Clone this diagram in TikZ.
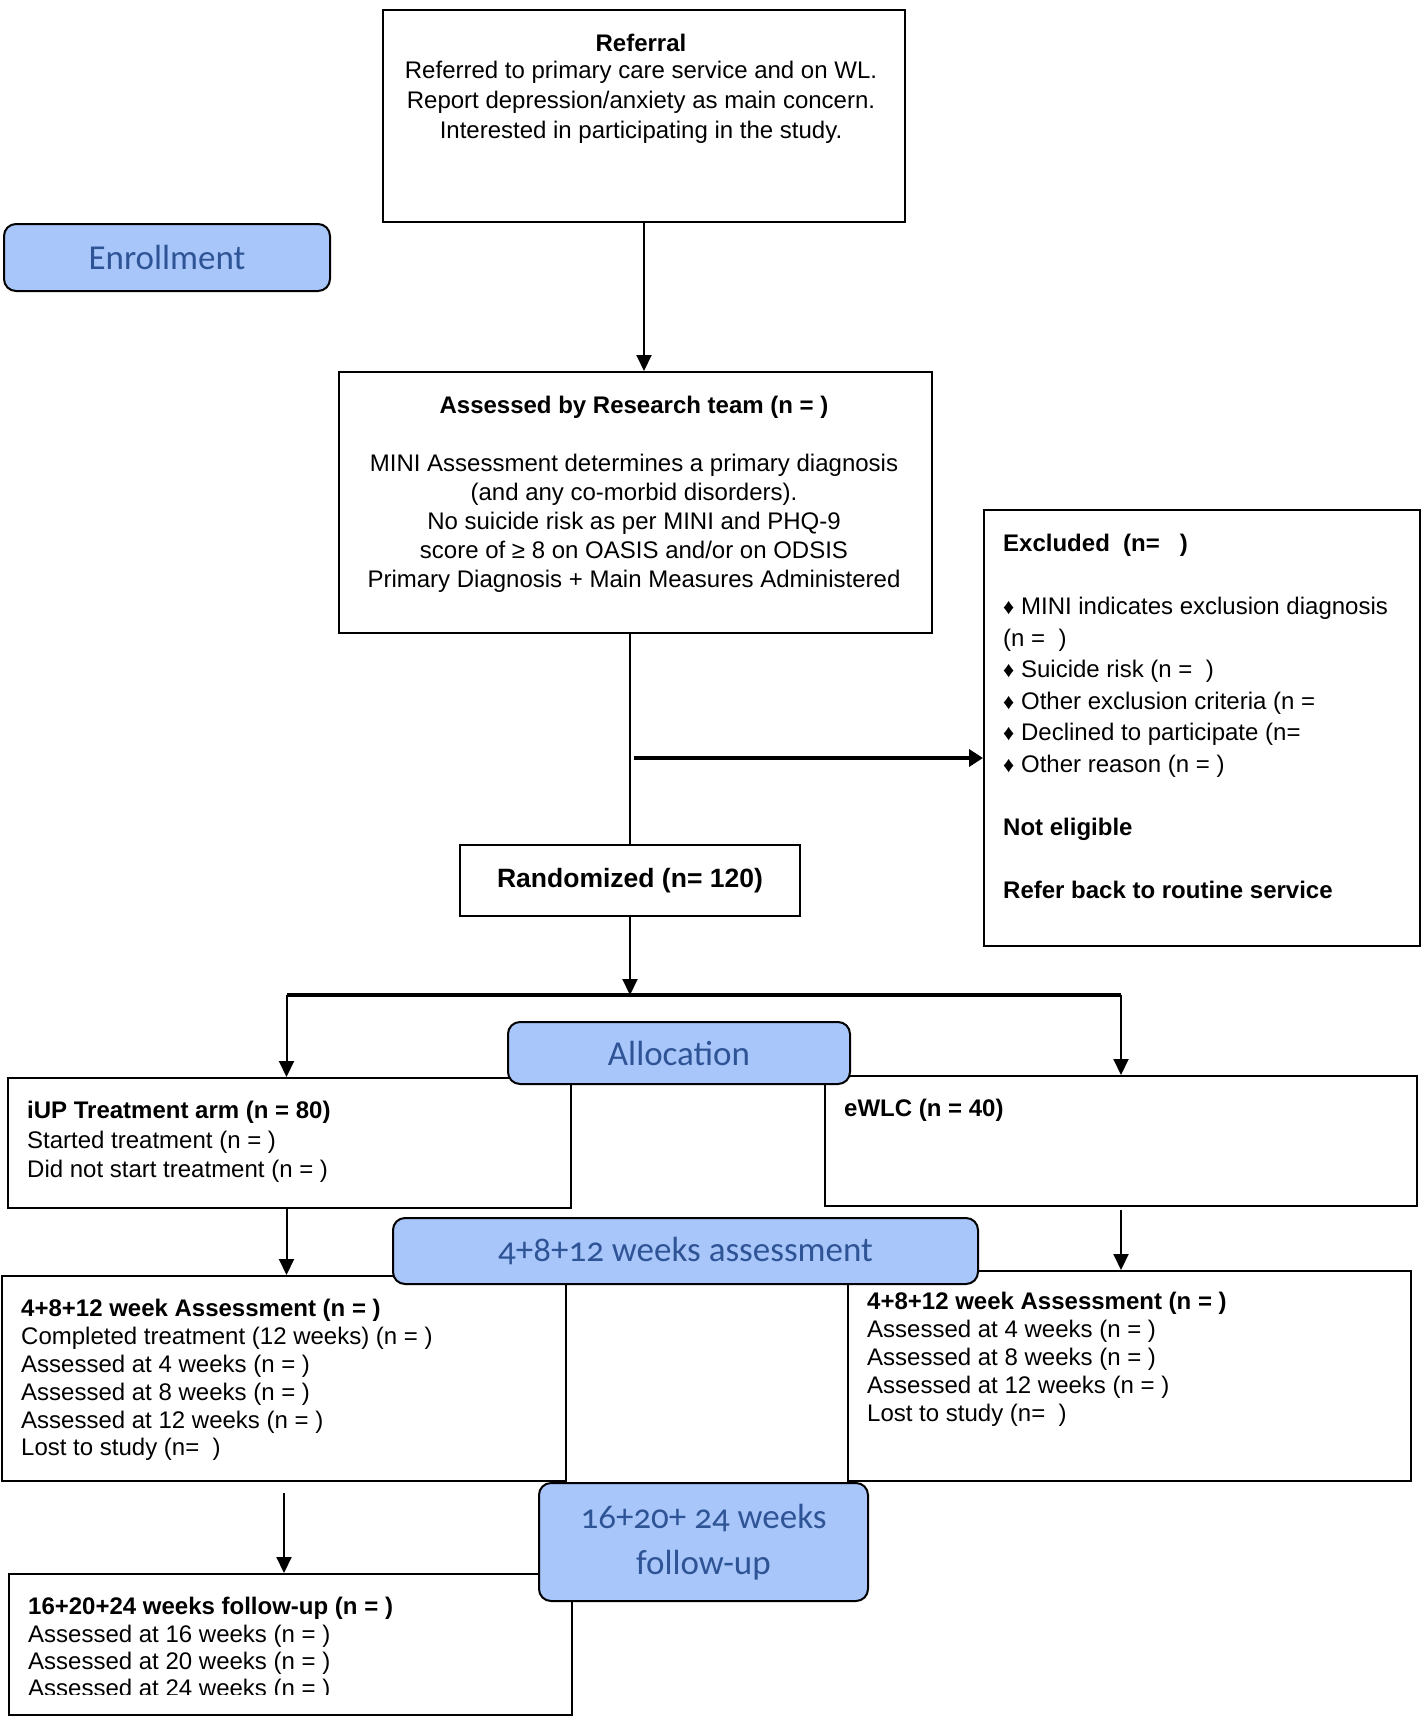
\documentclass[tikz,border=0pt]{standalone}
\usepackage{fontspec}
\setmainfont{Liberation Sans}
\newfontfamily\labfont[Numbers=OldStyle]{Carlito}
\usetikzlibrary{arrows.meta}
\definecolor{labfill}{RGB}{168,198,250}
\definecolor{labtext}{RGB}{47,84,150}
\newcommand\fstrut{\rule{0pt}{18pt}}
\newcommand\dia{{\fontsize{22}{22}\selectfont ♦}}
\begin{document}
\begin{tikzpicture}[x=1pt,y=-1pt,
  box/.style={draw, line width=2pt, inner sep=0pt, anchor=north west, fill=white},
  lab/.style={draw, line width=2pt, rounded corners=12pt, fill=labfill, text=labtext, inner sep=0pt, anchor=north west, align=center},
  labfont/.style={font=\fontsize{35}{#1}\selectfont\labfont},
  labfont/.default=42,
  txt/.style={inner sep=0pt, anchor=north west, align=left, font=\fontsize{24}{#1}\selectfont},
  txt/.default=29,
  ctxt/.style={inner sep=0pt, anchor=north, align=center, font=\fontsize{24}{#1}\selectfont},
  ctxt/.default=29,
  conn/.style={line width=2pt},
  heavy/.style={line width=4pt},
  arr/.style={line width=2pt, -{Triangle[length=16pt,width=15pt]}},
  heavyarr/.style={line width=4pt, -{Triangle[length=14pt,width=17pt]}}
]
\useasboundingbox (0,0) rectangle (1424,1716);
\fill[white] (0,0) rectangle (1424,1716);

% boxes
\node[box, minimum width=522pt, minimum height=212pt] (ref) at (382,9) {};
\node[box, minimum width=593pt, minimum height=261pt] (assess) at (338,371) {};
\node[box, minimum width=436pt, minimum height=436pt] (excl) at (983,509) {};
\node[box, minimum width=340pt, minimum height=71pt, font=\fontsize{26.5}{30}\selectfont\bfseries] (rand) at (459,844) {Randomized (n= 120)};
\node[box, minimum width=563pt, minimum height=130pt] (iup) at (7,1077) {};
\node[box, minimum width=592pt, minimum height=130pt] (ewlc) at (824,1075) {};
\node[box, minimum width=564pt, minimum height=205pt] (la) at (1,1275) {};
\node[box, minimum width=563pt, minimum height=210pt] (ra) at (847,1270) {};
\node[box, minimum width=563pt, minimum height=141pt] (fu) at (8,1573) {};

% texts
\node[ctxt=30] (reft) at (641,33.6) {\fstrut\textbf{Referral}\\[-3pt]
Referred to primary care service and on WL.\\
Report depression/anxiety as main concern.\\
Interested in participating in the study.};
\node[ctxt=29] (assesst) at (634,395.6) {\fstrut\textbf{Assessed by Research team (n = )}\\[29pt]
MINI Assessment determines a primary diagnosis\\
(and any co-morbid disorders).\\
No suicide risk as per MINI and PHQ-9\\
score of ≥ 8 on OASIS and/or on ODSIS\\
Primary Diagnosis + Main Measures Administered};
\node[txt=31.5] (exclt) at (1003,533.6) {\fstrut\textbf{Excluded\ \ (n=\ \ \ )}\\[31.5pt]
\dia{} MINI indicates exclusion diagnosis\\
(n =\ \ )\\
\dia{} Suicide risk (n =\ \ )\\
\dia{} Other exclusion criteria (n =\\
\dia{} Declined to participate (n=\\
\dia{} Other reason (n = )\\[31.5pt]
\textbf{Not eligible}\\[31.5pt]
\textbf{Refer back to routine service}};
\node[txt=29.5] (iupt) at (27,1100.6) {\fstrut\textbf{iUP Treatment arm (n = 80)}\\
Started treatment (n = )\\
Did not start treatment (n = )};
\node[txt] (ewlct) at (844,1098.6) {\fstrut\textbf{eWLC (n = 40)}};
\node[txt=27.8] (lat) at (21,1298.6) {\fstrut\textbf{4+8+12 week Assessment (n = )}\\
Completed treatment (12 weeks) (n = )\\
Assessed at 4 weeks (n = )\\
Assessed at 8 weeks (n = )\\
Assessed at 12 weeks (n = )\\
Lost to study (n=\ \ )};
\node[txt=28] (rat) at (867,1291.6) {\fstrut\textbf{4+8+12 week Assessment (n = )}\\
Assessed at 4 weeks (n = )\\
Assessed at 8 weeks (n = )\\
Assessed at 12 weeks (n = )\\
Lost to study (n=\ \ )};
\begin{scope}
\clip (0,1573) rectangle (1424,1694);
\node[txt=27.3] (fut) at (28,1596.6) {\fstrut\textbf{16+20+24 weeks follow-up (n = )}\\
Assessed at 16 weeks (n = )\\
Assessed at 20 weeks (n = )\\
Assessed at 24 weeks (n = )};
\end{scope}

% connectors
\draw[arr] (ref.south) -- (ref.south |- assess.north);
\draw[conn] (assess.south -| rand.north) -- (rand.north);
\draw[heavyarr] ([yshift=-30pt,xshift=4pt]excl.west -| rand.north) -- ([yshift=-30pt]excl.west);
\draw[arr] (rand.south) -- ++(0,78) coordinate (split);
\draw[heavy] ([xshift=-3pt]iup.north |- split) -- (ewlc.north |- split);
\draw[arr] ([xshift=-3pt]iup.north |- split) -- ([xshift=-3pt]iup.north);
\draw[arr] (ewlc.north |- split) -- (ewlc.north);
\draw[arr] ([xshift=-3pt]iup.south) -- ([xshift=-3pt]iup.south |- la.north);
\draw[arr] ([yshift=-3pt]ewlc.south) -- (ewlc.south |- ra.north);
\draw[arr] ([yshift=-11pt]la.south) -- (la.south |- fu.north);

% stage labels
\node[lab, labfont, minimum width=326pt, minimum height=67pt] (enr) at (3,223) {Enrollment};
\node[lab, labfont, minimum width=342pt, minimum height=62pt] (alloc) at (507,1021) {Allocation};
\node[lab, labfont, minimum width=585pt, minimum height=66pt] (asl) at (392,1217) {4+8+12 weeks assessment};
\node[lab, labfont=46, minimum width=329pt, minimum height=118pt] (ful) at (538,1482) {16+20+ 24 weeks\\follow-up};
\end{tikzpicture}
\end{document}
